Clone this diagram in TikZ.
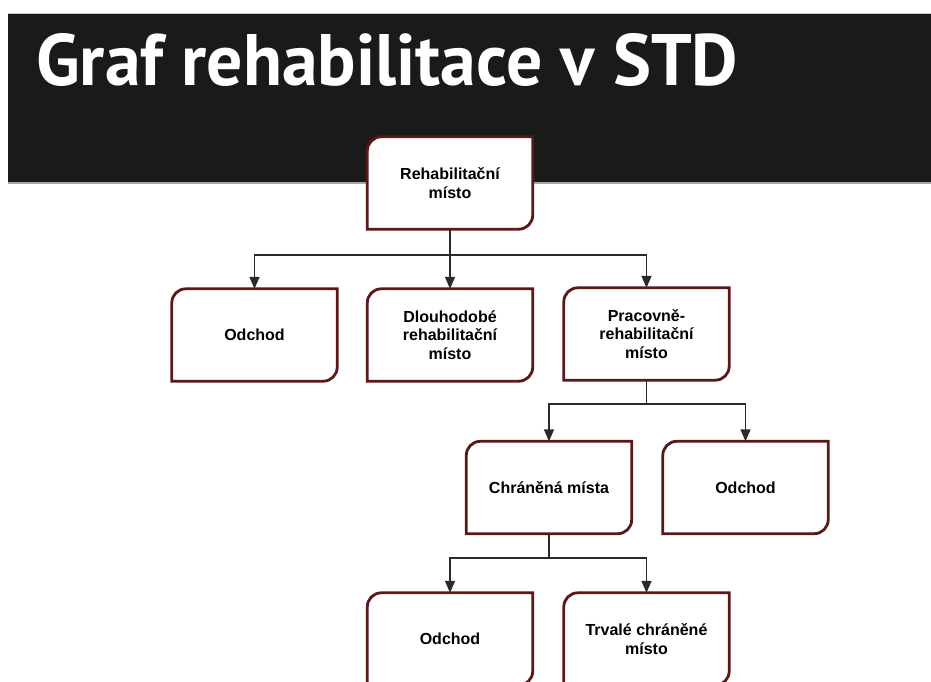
\documentclass[tikz,border=0pt]{standalone}
\usepackage{fontspec}
\setmainfont{Liberation Sans}
\newfontfamily\titlefont{PT Sans}
\usetikzlibrary{arrows.meta,calc}
\definecolor{band}{HTML}{1A1A1A}
\definecolor{boxred}{HTML}{5A1818}
\definecolor{connc}{HTML}{2A2A2A}
\pgfdeclarelayer{back}
\pgfdeclarelayer{bg}
\pgfsetlayers{back,bg,main}
\begin{document}
\begin{tikzpicture}[x=1pt,y=1pt,
  bx/.style={minimum width=165pt, minimum height=92pt, inner sep=0pt, align=center,
    font=\fontsize{16}{18.5}\selectfont\bfseries, text=black},
  conn/.style={draw=connc, line width=1.5pt},
  arr/.style={conn, -{Triangle[length=12pt,width=10pt]}},
  boxln/.style={draw=boxred, line width=2.8pt, fill=white}
  ]
\useasboundingbox (0,0) rectangle (931,-682);
\clip (0,0) rectangle (931,-682);
\begin{pgfonlayer}{back}
\fill[white] (0,0) rectangle (931,-682);
\fill[band] (8,-13) rectangle (931,-183);
\draw[gray!45, line width=1pt] (8,-13.5) -- (931,-13.5);
\draw[gray!70, line width=1.5pt] (8,-183) -- (931,-183);
\end{pgfonlayer}
\node[anchor=base west, inner sep=0pt, text=white] (title) at (36,-86)
  {\resizebox{702pt}{52pt}{\titlefont\bfseries Graf rehabilitace v STD}};

\node[bx] (r0) at (450,-183) {Rehabilitační\\místo};
\node[bx] (a1) at (254.5,-335) {Odchod};
\node[bx] (a2) at (450,-335) {Dlouhodobé\\rehabilitační\\místo};
\node[bx] (a3) at (646.5,-334) {Pracovně-\\rehabilitační\\místo};
\node[bx] (b1) at (549,-487.5) {Chráněná místa};
\node[bx] (b2) at (745.5,-487.5) {Odchod};
\node[bx] (c1) at (450,-639) {Odchod};
\node[bx] (c2) at (646.5,-639) {Trvalé chráněné\\místo};

\begin{pgfonlayer}{bg}
\foreach \n in {r0,a1,a2,a3,b1,b2,c1,c2}{
  \draw[boxln] ([yshift=-14pt]\n.north west) arc[start angle=180,end angle=90,radius=14pt]
    -- (\n.north east) -- ([yshift=14pt]\n.south east)
    arc[start angle=0,end angle=-90,radius=14pt] -- (\n.south west) -- cycle;
}
\end{pgfonlayer}

\coordinate (j1) at (450,-255);
\coordinate (j2) at (646.5,-404);
\coordinate (j3) at (549,-558);

\draw[conn] (r0.south) -- (j1);
\draw[arr] (j1) -| (a1.north);
\draw[arr] (j1) -- (a2.north);
\draw[arr] (j1) -| (a3.north);

\draw[conn] (a3.south) -- (j2);
\draw[arr] (j2) -| (b1.north);
\draw[arr] (j2) -| (b2.north);

\draw[conn] (b1.south) -- (j3);
\draw[arr] (j3) -| (c1.north);
\draw[arr] (j3) -| (c2.north);
\end{tikzpicture}
\end{document}
